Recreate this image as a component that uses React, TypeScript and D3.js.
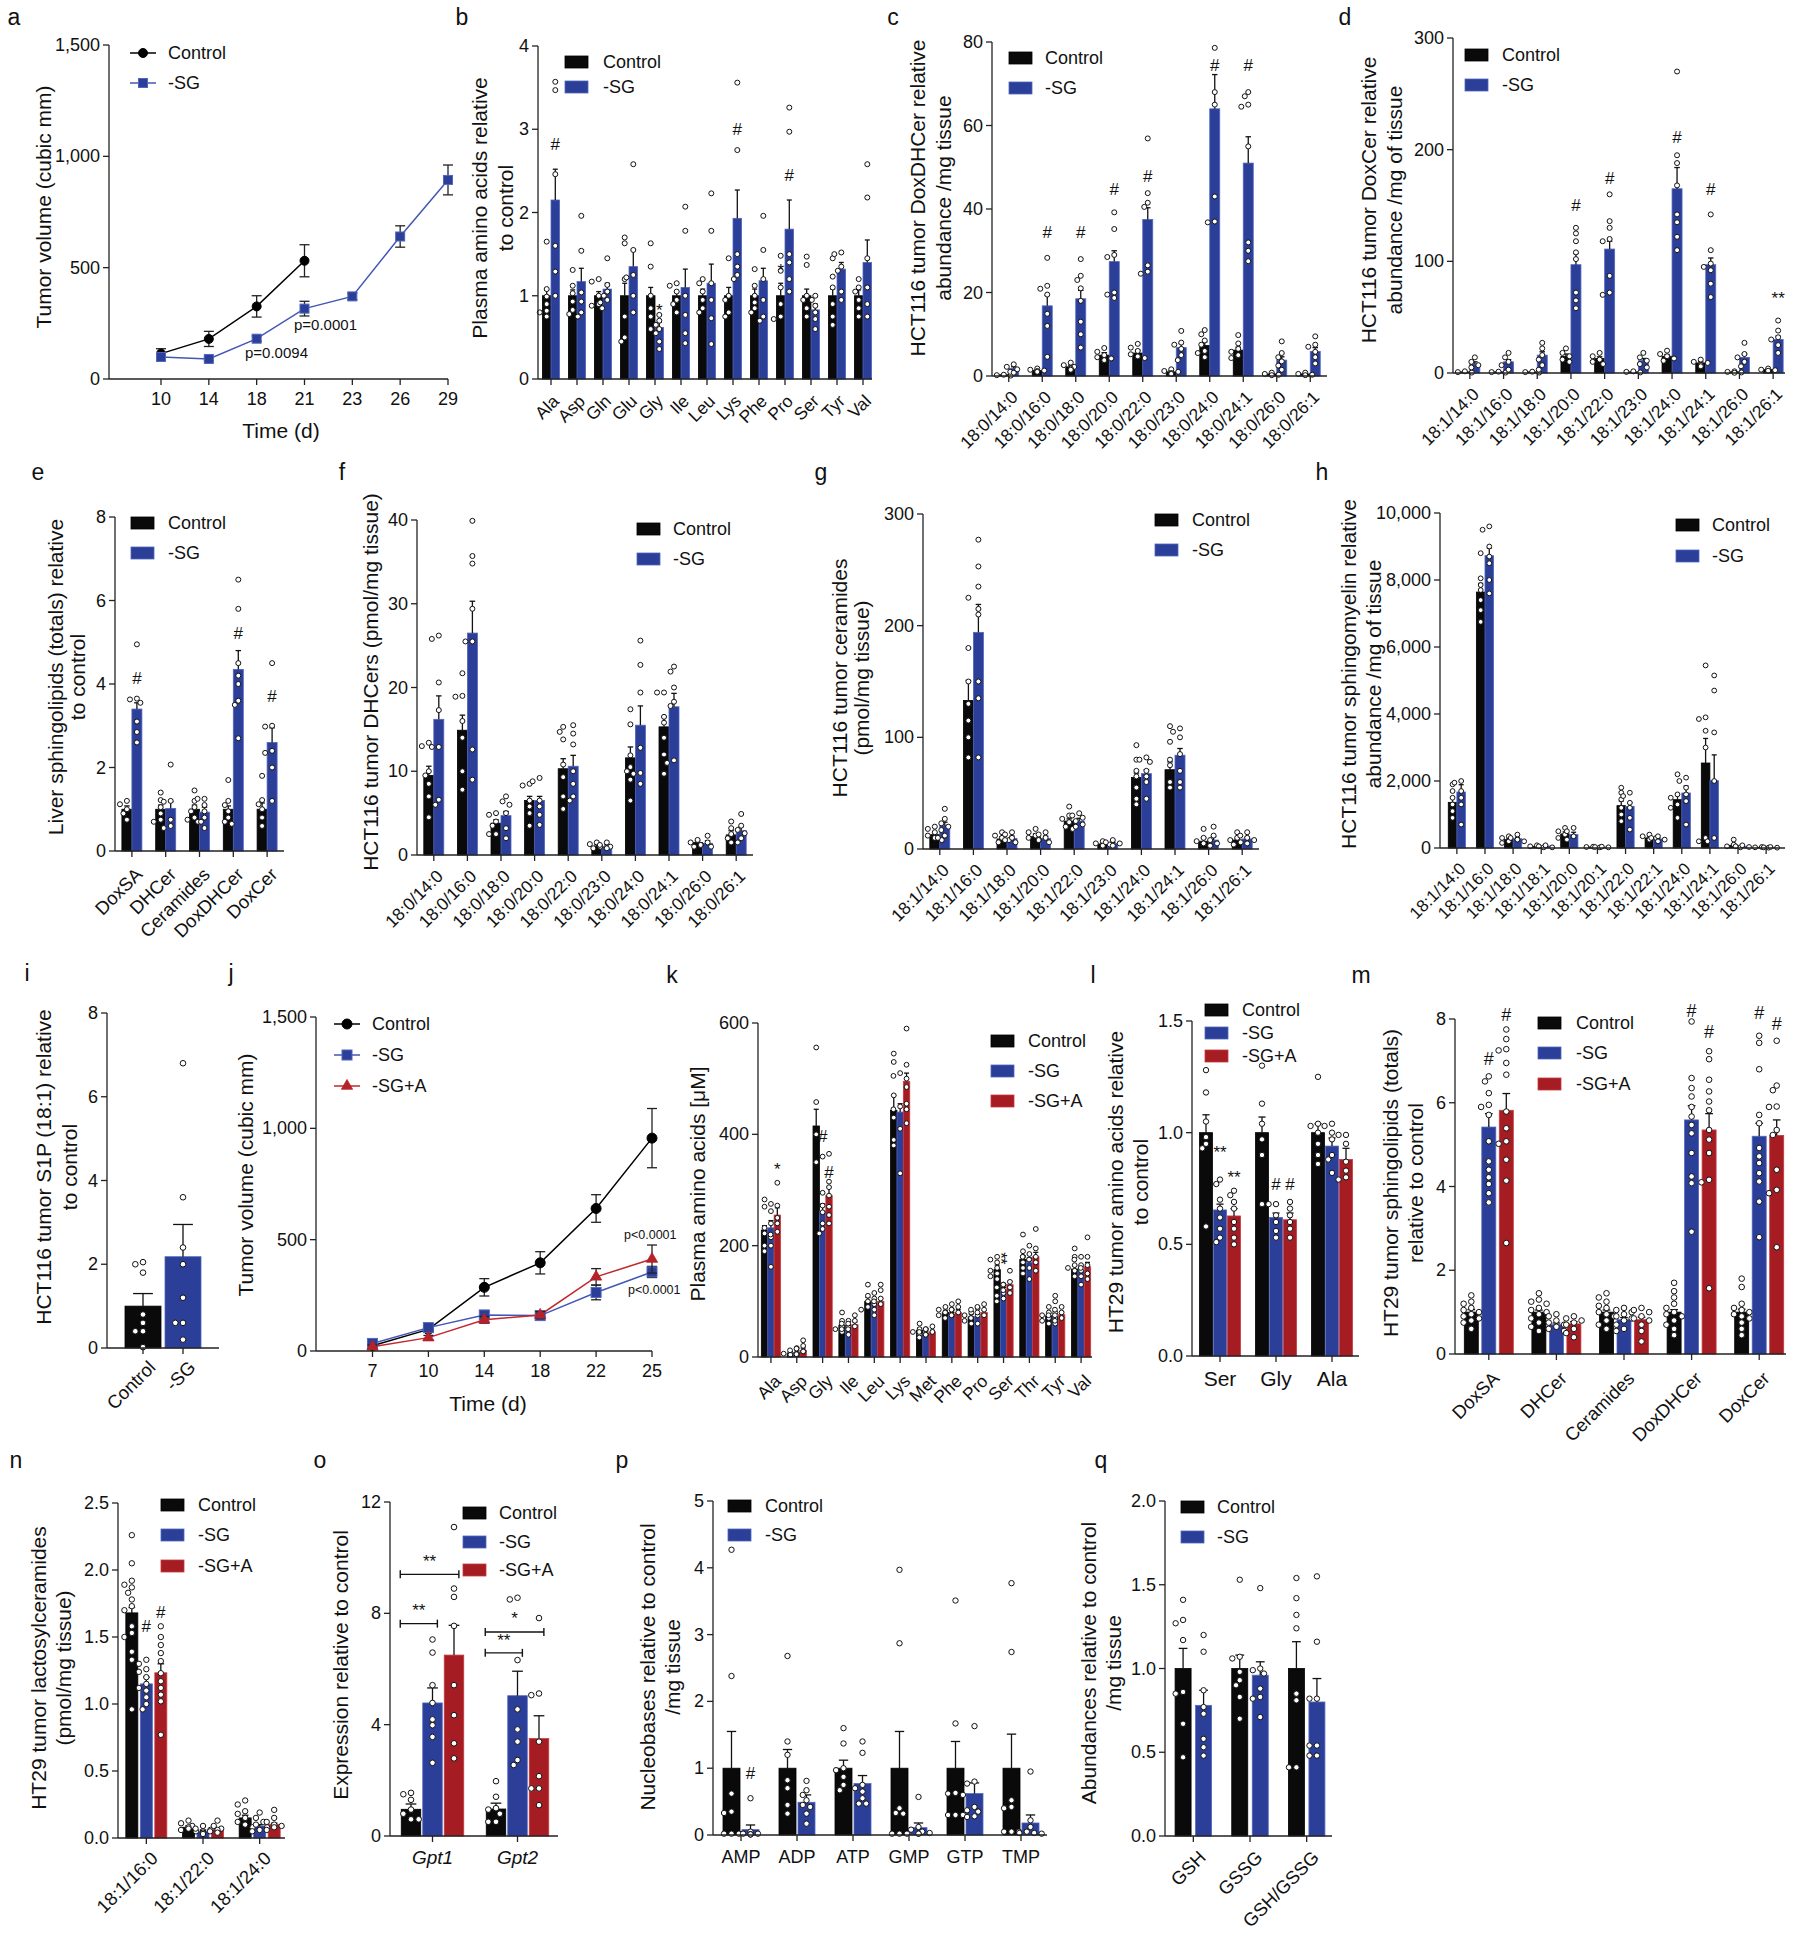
import React from "react";
import * as d3 from "d3";

const FONT = '"Liberation Sans", Arial, Helvetica, sans-serif';
const C_BLACK = "#0a0a0a";
const C_BLUE = "#2b3e98";
const C_RED = "#a51c22";
const S_BLUE = "#5266be";
const S_RED = "#c8393f";

// ---------- a ----------
const aDays = ["10", "14", "18", "21", "23", "26", "29"];
const aCtrlDays = ["10", "14", "18", "21"];
const aCtrl = [114, 180, 326, 531];
const aCtrlErr = [22, 34, 48, 72];
const aSG = [99, 90, 181, 316, 371, 640, 894];
const aSGErr = [10, 8, 12, 33, 15, 48, 67];

// ---------- b ----------
const bCats = ["Ala", "Asp", "Gln", "Glu", "Gly", "Ile", "Leu", "Lys", "Phe", "Pro", "Ser", "Tyr", "Val"];
const bCtrl = [1, 1, 1, 1, 1, 1, 1, 1, 1, 1, 1, 1, 1];
const bCtrlErr = [1.07, 1.07, 1.05, 1.15, 1.1, 1.05, 1.08, 1.1, 1.08, 1.15, 1.08, 1.08, 1.07];
const bSG = [2.15, 1.17, 1.08, 1.35, 0.62, 1.1, 1.15, 1.93, 1.18, 1.8, 0.83, 1.32, 1.4];
const bSGErr = [2.52, 1.33, 1.15, 1.55, 0.68, 1.32, 1.38, 2.27, 1.33, 2.15, 0.9, 1.4, 1.67];
const bCtrlDots = [[1.65, 1.08, 0.99, 0.9, 0.8, 0.75, 0.82], [1.31, 1.12, 1.03, 0.93, 0.83, 0.78], [1.2, 1.17, 1.0, 0.9, 0.85, 0.88], [1.7, 1.63, 1.2, 0.75, 0.5, 0.45], [1.63, 1.35, 1.0, 0.85, 0.75, 0.6], [1.15, 1.12, 1.05, 0.95, 0.8, 0.9], [1.2, 1.15, 1.05, 0.95, 0.85, 0.8], [1.45, 1.0, 0.95, 0.8, 0.75], [1.32, 1.12, 1.0, 0.92, 0.85, 0.8], [1.48, 1.3, 1.1, 0.9, 0.75, 0.72], [1.47, 1.37, 1.0, 0.95, 0.85, 0.75], [1.45, 1.23, 1.1, 0.9, 0.75, 0.65], [1.2, 1.1, 1.05, 0.95, 0.85, 0.75]];
const bSGDots = [[3.57, 3.47, 2.46, 1.6, 1.29, 1.0], [1.96, 1.54, 1.04, 0.93, 0.75, 0.8], [1.45, 1.13, 1.05, 1.0, 0.92, 0.95], [2.58, 1.55, 1.25, 1.22, 1.0, 0.8], [0.77, 0.7, 0.65, 0.6, 0.55, 0.45, 0.36], [2.07, 1.78, 1.0, 0.77, 0.43, 0.55], [2.23, 1.78, 1.15, 0.95, 0.73, 0.42], [3.56, 2.75, 1.5, 1.35, 1.25, 1.2], [1.96, 1.55, 1.2, 0.95, 0.75, 0.7], [3.26, 2.97, 1.5, 1.4, 1.2, 1.05], [1.0, 0.95, 0.88, 0.8, 0.72, 0.6], [1.52, 1.5, 1.35, 1.3, 1.05, 0.95], [2.58, 2.18, 1.45, 1.1, 0.9, 0.75]];

// ---------- c ----------
const cCats = ["18:0/14:0", "18:0/16:0", "18:0/18:0", "18:0/20:0", "18:0/22:0", "18:0/23:0", "18:0/24:0", "18:0/24:1", "18:0/26:0", "18:0/26:1"];
const cCtrl = [0.3, 1.3, 2.2, 5.0, 5.5, 1.0, 7.3, 6.2, 0.5, 0.5];
const cCtrlErr = [0.4, 1.5, 2.6, 5.6, 6.2, 1.3, 8.2, 6.9, 0.6, 0.6];
const cSG = [1.8, 16.8, 18.5, 27.4, 37.5, 6.8, 64, 51, 3.8, 5.9];
const cSGErr = [2.2, 19.3, 20.5, 30, 40.3, 7.8, 72.2, 57.3, 4.6, 6.8];
const cCtrlDots = [[0.3, 0.2, 0.1], [1.8, 1.5, 1.2, 1.0, 1.3], [3.2, 2.6, 2.2, 1.8, 1.5], [6.7, 5.8, 5.0, 4.5, 3.8, 4.2], [7.7, 6.8, 6, 5.2, 4.7, 4.3], [1.6, 1.2, 1.0, 0.7, 0.5], [11, 10, 8.5, 7.5, 6, 5.5, 4.5], [9.8, 7.8, 6.5, 5.8, 5, 4.3], [0.8, 0.5, 0.3, 0.2], [0.8, 0.5, 0.3, 0.2]];
const cSGDots = [[2.8, 2.2, 1.6, 1.0, 0.8], [28.3, 21.6, 20.9, 19.5, 14.9, 12, 4.6], [28, 24, 23, 21, 18, 13, 10, 6.8], [39.2, 35.2, 29, 28.5, 20, 18.7, 19.5], [56.9, 43.8, 41.5, 40.5, 26.5, 24.5, 25], [10.8, 8, 7.5, 6.5, 5, 3.8], [78.6, 68, 65, 43, 37, 36.8], [68, 67, 65, 64.5, 55, 32, 30, 27.5], [8.3, 5.5, 4.5, 3.5, 2.5, 1.5], [9.5, 7.5, 7, 5.8, 4.5, 3]];

// ---------- d ----------
const dCats = ["18:1/14:0", "18:1/16:0", "18:1/18:0", "18:1/20:0", "18:1/22:0", "18:1/23:0", "18:1/24:0", "18:1/24:1", "18:1/26:0", "18:1/26:1"];
const dCtrl = [1, 1, 1, 15, 13, 1, 15, 9, 1, 3];
const dCtrlErr = [1.3, 1.2, 1.2, 17, 14.5, 1.2, 16.5, 10, 1.2, 3.6];
const dSG = [8, 10, 16, 97, 111, 11, 165, 97, 14, 30];
const dSGErr = [10, 12, 19, 107, 118, 13, 184, 103, 17, 33];
const dCtrlDots = [[1.5, 0.8, 0.4], [1.2, 0.8, 0.4], [1.2, 0.8, 0.4], [22, 18, 15, 12, 10], [18, 15, 12, 10, 8], [1.5, 1, 0.5], [20, 17, 15, 13, 11], [12, 10, 9, 7, 6], [1.5, 1, 0.5, 0.2], [4, 3, 2.5, 2]];
const dSGDots = [[14, 10, 7, 5], [18, 14, 10, 7, 3], [27, 22, 16, 12, 7, 3], [130, 125, 118, 108, 102, 72, 65, 58], [160, 136, 130, 120, 118, 87, 72, 70], [18, 14, 11, 8, 5], [270, 195, 188, 168, 142, 135, 122, 110], [142, 110, 98, 95, 92, 80, 68], [27, 17, 14, 10, 6], [47, 38, 32, 30, 25, 18]];

// ---------- e ----------
const eCats = ["DoxSA", "DHCer", "Ceramides", "DoxDHCer", "DoxCer"];
const eCtrl = [1, 1, 1, 1, 1];
const eCtrlErr = [1.08, 1.1, 1.1, 1.08, 1.15];
const eSG = [3.4, 1.02, 0.93, 4.35, 2.6];
const eSGErr = [3.55, 1.18, 1.05, 4.8, 2.95];
const eCtrlDots = [[1.2, 1.12, 1.0, 0.9, 0.75], [1.4, 1.22, 1.05, 0.9, 0.75, 0.7], [1.45, 1.2, 1.05, 0.95, 0.8, 0.75, 0.7], [1.7, 1.2, 1.1, 0.95, 0.8, 0.7, 0.65], [1.8, 1.22, 1.12, 1.0, 0.8, 0.6]];
const eSGDots = [[4.95, 3.65, 3.63, 3.55, 3.1, 2.85, 2.6], [2.07, 1.2, 1.18, 0.75, 0.6, 0.55], [1.25, 1.25, 1.1, 0.95, 0.8, 0.7, 0.55], [6.5, 5.8, 4.5, 4.2, 4.0, 3.6, 3.5, 2.7], [4.5, 3.0, 2.98, 2.4, 2.35, 2.0, 1.2]];

// ---------- f ----------
const fCats = cCats;
const fCtrl = [9.5, 14.9, 3.8, 6.5, 10.3, 1.0, 11.6, 15.3, 1.5, 2.4];
const fCtrlErr = [10.6, 16.7, 4.2, 7.0, 11.5, 1.2, 12.9, 16.5, 1.7, 2.9];
const fSG = [16.2, 26.5, 4.7, 6.5, 10.6, 1.0, 15.5, 17.7, 1.4, 2.9];
const fSGErr = [19, 30.3, 5.2, 7.0, 11.9, 1.2, 17.8, 19.3, 1.7, 3.4];
const fCtrlDots = [[13.4, 13, 10, 9.5, 8.5, 7, 4.5], [21.7, 19, 18.9, 16, 14, 10, 7.8], [5, 4.8, 4, 3.5, 2.5, 2.5], [8.5, 8.3, 6.5, 5.8, 5, 3.5], [15.3, 14.7, 13.8, 10.8, 9.3, 7, 5.5], [1.5, 1.3, 1.0, 0.8], [17.4, 15.6, 11.9, 10.5, 10, 9, 6.5], [19.4, 19.4, 16.5, 15.8, 14, 12, 9.7], [1.8, 1.5, 1.2, 1.0], [4, 3.2, 2.5, 2, 1.5]];
const fSGDots = [[26.2, 25.8, 20.6, 17.3, 12.9, 12.9, 6.6, 6.0], [39.9, 35.7, 34.8, 29.4, 25.5, 25.5, 12.6, 9.0], [7, 6.4, 6, 5, 3.2, 2], [9.2, 8.8, 6.5, 5.8, 4.8, 3.6], [15.5, 14.5, 13.2, 10, 8.5, 7, 6.5], [1.5, 1.2, 1.0, 0.8], [25.6, 22.7, 19.4, 12.8, 9.8, 9.7, 8.5], [22.5, 21.9, 20, 18.3, 17.8, 11.3, 11], [2.3, 1.5, 1.2, 1.0], [4.9, 3.5, 3, 2.6, 2, 1.5]];

// ---------- g ----------
const gCats = dCats;
const gCtrl = [12.8, 133, 9, 11, 25, 4.5, 64, 71, 7, 8];
const gCtrlErr = [14.5, 151, 11, 13.5, 27, 5.5, 68, 78, 10, 9];
const gSG = [20.9, 194, 9.5, 9.5, 25, 5, 67.5, 84, 8, 9];
const gSGErr = [24, 219, 11.5, 11.5, 27.5, 6, 71, 90, 11, 10.5];
const gCtrlDots = [[20, 18, 15, 12, 10, 8], [225, 180, 150, 130, 115, 100, 82], [15, 12, 10, 8, 6], [18, 15, 12, 10, 8], [38, 30, 27, 24, 20, 18], [7, 5, 4, 3], [93, 80, 70, 65, 55, 45, 40], [110, 96, 80, 75, 60, 55], [18, 10, 7, 5, 3], [15, 10, 8, 6, 4]];
const gSGDots = [[36, 27, 23, 20, 17, 12, 10], [277, 253, 235, 215, 210, 150, 135, 82], [15, 13, 10, 8, 6], [15, 13, 10, 8, 6], [32, 30, 28, 25, 22, 20], [8, 6, 5, 3], [82, 80, 78, 70, 65, 60, 45], [108, 105, 100, 85, 70, 60, 55], [20, 12, 8, 5, 3], [15, 12, 10, 8, 5]];

// ---------- h ----------
const hCats = ["18:1/14:0", "18:1/16:0", "18:1/18:0", "18:1/18:1", "18:1/20:0", "18:1/20:1", "18:1/22:0", "18:1/22:1", "18:1/24:0", "18:1/24:1", "18:1/26:0", "18:1/26:1"];
const hCtrl = [1363, 7640, 250, 50, 420, 30, 1264, 300, 1443, 2537, 80, 20];
const hCtrlErr = [1530, 7900, 290, 60, 480, 35, 1400, 330, 1600, 3270, 110, 25];
const hSG = [1672, 8726, 280, 60, 400, 30, 1244, 270, 1642, 2010, 50, 20];
const hSGErr = [1890, 8950, 320, 70, 470, 35, 1350, 300, 1850, 2780, 60, 25];
const hCtrlDots = [[1900, 1700, 1500, 1300, 1100, 900], [8800, 8050, 7850, 7700, 7400, 7100, 6750], [350, 300, 200, 150], [80, 50, 20], [600, 500, 400, 300], [40, 30, 20], [1800, 1650, 1450, 1200, 1000, 800], [400, 350, 300, 250], [2200, 1600, 1500, 1300, 1200, 900], [5450, 3900, 3850, 3500, 3000, 300, 200], [250, 100, 50, 20], [30, 20, 10]];
const hSGDots = [[2000, 1950, 1700, 1500, 1300, 700], [9600, 9500, 9000, 8700, 8500, 8000, 7600], [400, 300, 250, 200], [80, 50, 20], [600, 500, 350, 250], [40, 30, 20], [1650, 1550, 1350, 1200, 900, 550], [350, 300, 250, 200], [2100, 2000, 1800, 1600, 1400, 700], [5150, 4700, 3450, 2000, 300, 200], [80, 50, 30], [30, 20, 10]];

// ---------- i ----------
const iCats = ["Control", "-SG"];
const iCtrl = [1.0, null];
const iCtrlErr = [1.3, null];
const iSG = [null, 2.18];
const iSGErr = [null, 2.95];
const iCtrlDots = [[0.02, 0.4, 0.4, 0.6, 0.8, 1.8, 2.0, 2.05], []];
const iSGDots = [[], [6.8, 3.6, 2.4, 2.0, 1.2, 0.6, 0.6, 0.2]];

// ---------- j ----------
const jDays = ["7", "10", "14", "18", "22", "25"];
const jCtrl = [24, 97, 286, 396, 640, 956];
const jCtrlErr = [8, 12, 39, 50, 62, 133];
const jSG = [34, 105, 162, 159, 263, 355];
const jSGErr = [10, 15, 18, 15, 33, 25];
const jSGA = [19, 60, 140, 162, 333, 413];
const jSGAErr = [8, 10, 15, 15, 37, 63];

// ---------- k ----------
const kCats = ["Ala", "Asp", "Gly", "Ile", "Leu", "Lys", "Met", "Phe", "Pro", "Ser", "Thr", "Tyr", "Val"];
const kCtrl = [228, 6, 415, 57, 100, 443, 48, 80, 72, 157, 175, 74, 158];
const kCtrlErr = [236, 8, 445, 63, 107, 470, 52, 84, 77, 165, 182, 79, 164];
const kSG = [232, 8, 262, 52, 95, 440, 42, 76, 72, 120, 170, 72, 155];
const kSGErr = [245, 11, 275, 57, 101, 455, 45, 80, 77, 125, 178, 78, 162];
const kSGA = [255, 12, 290, 58, 100, 495, 45, 80, 80, 130, 180, 76, 162];
const kSGAErr = [268, 16, 305, 63, 106, 510, 48, 85, 84, 136, 188, 81, 170];
const kCtrlDots = [[283, 270, 232, 222, 200, 190], [8, 6, 5, 4], [556, 458, 400, 350], [80, 65, 55, 50, 45], [130, 110, 100, 90, 85], [545, 530, 470, 430, 390, 380], [60, 50, 45, 40], [90, 85, 80, 75, 70], [80, 75, 70, 65, 60], [180, 175, 170, 160, 155, 150, 145, 140], [220, 190, 180, 170, 160, 150], [90, 80, 75, 70, 65, 60], [195, 180, 165, 160, 155, 145]];
const kSGDots = [[275, 262, 240, 215, 200, 162], [16, 12, 10, 6], [360, 295, 272, 260, 240, 230, 222], [65, 60, 55, 50, 40], [115, 105, 95, 85, 75], [510, 505, 450, 445, 410, 330], [50, 45, 40, 35], [95, 85, 80, 75, 70], [88, 85, 75, 70, 60], [130, 125, 115, 110, 105, 100], [200, 185, 180, 175, 160, 140], [110, 100, 80, 75, 70, 60], [180, 175, 165, 155, 145, 130]];
const kSGADots = [[313, 272, 250, 240, 225, 220], [30, 20, 15, 10, 5], [365, 315, 305, 290, 270, 255, 240], [75, 65, 60, 55, 50], [130, 120, 105, 100, 95], [590, 525, 500, 485, 455, 445, 420], [55, 50, 45, 40], [100, 90, 85, 80, 75], [95, 90, 85, 80, 75], [155, 135, 130, 125, 120, 115], [230, 195, 180, 175, 170, 155], [90, 85, 80, 75, 70, 65], [215, 180, 165, 160, 150, 140]];

// ---------- l ----------
const lCats = ["Ser", "Gly", "Ala"];
const lCtrl = [1.0, 1.0, 1.0];
const lCtrlErr = [1.08, 1.07, 1.04];
const lSG = [0.654, 0.62, 0.94];
const lSGErr = [0.68, 0.64, 0.976];
const lSGA = [0.627, 0.61, 0.88];
const lSGAErr = [0.66, 0.64, 0.93];
const lCtrlDots = [[1.28, 1.18, 1.05, 0.98, 0.95, 0.93, 0.58], [1.3, 1.13, 1.04, 0.97, 0.9, 0.68], [1.25, 1.04, 1.03, 1.0, 0.95, 0.9, 0.86]];
const lSGDots = [[0.79, 0.77, 0.7, 0.66, 0.62, 0.57, 0.53, 0.51], [0.68, 0.68, 0.63, 0.6, 0.56, 0.53], [1.04, 1.03, 1.0, 0.97, 0.9, 0.88, 0.82]];
const lSGADots = [[0.74, 0.72, 0.69, 0.66, 0.6, 0.57, 0.53, 0.5], [0.69, 0.66, 0.63, 0.6, 0.57, 0.53], [0.99, 0.99, 0.95, 0.87, 0.83, 0.8, 0.79]];

// ---------- m ----------
const mCats = ["DoxSA", "DHCer", "Ceramides", "DoxDHCer", "DoxCer"];
const mCtrl = [1.0, 1.0, 1.0, 1.0, 1.0];
const mCtrlErr = [1.06, 1.05, 1.05, 1.06, 1.07];
const mSG = [5.42, 0.7, 0.82, 5.59, 5.2];
const mSGErr = [5.74, 0.74, 0.87, 5.93, 5.51];
const mSGA = [5.82, 0.72, 0.82, 5.35, 5.22];
const mSGAErr = [6.22, 0.77, 0.88, 5.74, 5.59];
const mCtrlDots = [[1.4, 1.25, 1.2, 1.1, 1.05, 1.0, 0.95, 0.9, 0.85, 0.8, 0.75, 0.6], [1.45, 1.3, 1.25, 1.2, 1.1, 1.05, 1.0, 0.95, 0.85, 0.75, 0.65, 0.55], [1.45, 1.35, 1.25, 1.15, 1.1, 1.0, 0.95, 0.9, 0.8, 0.7, 0.6], [1.7, 1.5, 1.35, 1.2, 1.1, 1.0, 0.95, 0.9, 0.8, 0.7, 0.6, 0.45], [1.8, 1.6, 1.2, 1.1, 1.05, 1.0, 0.95, 0.9, 0.85, 0.75, 0.6, 0.45]];
const mSGDots = [[6.63, 6.51, 6.23, 5.95, 5.9, 5.71, 5.08, 4.6, 4.4, 4.22, 4.06, 3.84, 3.62], [0.95, 0.9, 0.8, 0.75, 0.7, 0.65, 0.6, 0.55], [1.1, 1.05, 1.0, 0.95, 0.9, 0.85, 0.8, 0.7, 0.6, 0.55], [7.94, 6.59, 6.35, 6.15, 5.9, 5.67, 5.47, 5.27, 4.8, 4.24, 4.08, 2.92], [7.6, 7.43, 6.8, 5.71, 5.51, 4.92, 4.72, 4.56, 4.32, 4.12, 3.64, 2.79]];
const mSGADots = [[7.75, 7.52, 7.28, 7.25, 6.95, 6.67, 5.79, 5.39, 5.08, 5.02, 4.64, 4.14, 2.65], [0.9, 0.85, 0.8, 0.75, 0.7, 0.6, 0.5, 0.4], [1.1, 1.05, 1.0, 0.9, 0.85, 0.8, 0.7, 0.55, 0.3], [7.23, 7.04, 6.55, 6.27, 6.03, 5.82, 5.35, 5.12, 4.8, 4.16, 4.1, 1.57], [7.48, 6.41, 6.3, 5.91, 5.9, 5.35, 5.23, 4.4, 3.92, 3.84, 2.55]];

// ---------- n ----------
const nCats = ["18:1/16:0", "18:1/22:0", "18:1/24:0"];
const nCtrl = [1.68, 0.08, 0.15];
const nCtrlErr = [1.72, 0.09, 0.17];
const nSG = [1.15, 0.05, 0.09];
const nSGErr = [1.2, 0.06, 0.1];
const nSGA = [1.233, 0.06, 0.1];
const nSGAErr = [1.3, 0.07, 0.11];
const nCtrlDots = [[2.26, 2.05, 1.92, 1.89, 1.87, 1.83, 1.78, 1.73, 1.7, 1.58, 1.53, 1.5, 1.39, 1.33, 0.96], [0.13, 0.11, 0.09, 0.08, 0.07, 0.06, 0.05], [0.28, 0.25, 0.2, 0.18, 0.15, 0.12, 0.1, 0.08]];
const nSGDots = [[1.33, 1.3, 1.26, 1.24, 1.2, 1.15, 1.12, 1.1, 1.05, 1.0, 0.96], [0.09, 0.07, 0.06, 0.05, 0.04, 0.03], [0.19, 0.15, 0.12, 0.1, 0.08, 0.06, 0.05]];
const nSGADots = [[1.58, 1.5, 1.44, 1.38, 1.32, 1.23, 1.17, 1.12, 1.07, 1.02, 0.77], [0.13, 0.09, 0.07, 0.06, 0.05, 0.04], [0.21, 0.15, 0.12, 0.1, 0.09, 0.08, 0.06]];

// ---------- o ----------
const oCats = ["Gpt1", "Gpt2"];
const oCtrl = [0.96, 0.97];
const oCtrlErr = [1.15, 1.18];
const oSG = [4.78, 5.04];
const oSGErr = [5.32, 5.92];
const oSGA = [6.5, 3.5];
const oSGAErr = [7.57, 4.32];
const oCtrlDots = [[1.55, 1.5, 1.3, 0.95, 0.8, 0.6, 0.6], [1.97, 1.41, 1.0, 0.95, 0.8, 0.51, 0.51]];
const oSGDots = [[7.06, 6.59, 5.42, 4.78, 4.19, 3.98, 3.56, 2.63], [8.56, 8.5, 6.32, 4.55, 3.83, 3.39, 2.73, 2.55]];
const oSGADots = [[11.1, 8.89, 8.59, 7.55, 5.42, 4.34, 3.33, 2.79], [7.83, 5.12, 5.06, 3.39, 2.15, 1.71, 1.71, 1.11]];

// ---------- p ----------
const pCats = ["AMP", "ADP", "ATP", "GMP", "GTP", "TMP"];
const pCtrl = [1, 1, 1, 1, 1, 1];
const pCtrlErr = [1.55, 1.28, 1.12, 1.55, 1.4, 1.51];
const pSG = [0.08, 0.49, 0.77, 0.11, 0.62, 0.18];
const pSGErr = [0.15, 0.6, 0.89, 0.18, 0.78, 0.3];
const pCtrlDots = [[4.27, 2.38, 0.62, 0.35, 0.33, 0.02, 0.02, 0.02], [2.68, 1.4, 1.2, 0.82, 0.7, 0.45, 0.32], [1.6, 1.37, 1.0, 0.97, 0.87, 0.75, 0.67], [3.97, 2.87, 0.4, 0.33, 0.32, 0.02, 0.02, 0.02], [3.51, 1.67, 0.63, 0.62, 0.6, 0.3, 0.3, 0.3], [3.77, 2.74, 0.52, 0.42, 0.4, 0.05, 0.05, 0.05]];
const pSGDots = [[0.55, 0.05, 0.02, 0.02, 0.01, 0.01, 0.01], [0.81, 0.67, 0.6, 0.52, 0.45, 0.42, 0.32, 0.17], [1.4, 1.23, 0.75, 0.7, 0.65, 0.55, 0.47, 0.47], [0.57, 0.12, 0.08, 0.05, 0.03, 0.02, 0.02], [1.63, 0.8, 0.77, 0.42, 0.37, 0.35, 0.28, 0.27], [0.95, 0.22, 0.12, 0.05, 0.03, 0.03, 0.02]];

// ---------- q ----------
const qCats = ["GSH", "GSSG", "GSH/GSSG"];
const qCtrl = [1.0, 1.0, 1.0];
const qCtrlErr = [1.12, 1.08, 1.16];
const qSG = [0.78, 0.96, 0.8];
const qSGErr = [0.87, 1.04, 0.94];
const qCtrlDots = [[1.41, 1.29, 1.27, 1.17, 0.86, 0.85, 0.67, 0.47], [1.53, 1.07, 1.06, 0.98, 0.93, 0.9, 0.83, 0.7], [1.54, 1.42, 1.32, 1.24, 0.85, 0.81, 0.41, 0.41]];
const qSGDots = [[1.2, 1.1, 0.87, 0.77, 0.73, 0.58, 0.53, 0.48], [1.48, 1.0, 0.99, 0.97, 0.88, 0.83, 0.82, 0.71], [1.55, 1.16, 0.82, 0.82, 0.54, 0.54, 0.48, 0.48]];

// ------------------------------------------------------------
type Ser = { name: string; fill: string; stroke: string; means: (number | null)[]; errs: (number | null)[]; dots: number[][] };
const ctrlS = (means: any[], errs: any[], dots: number[][]): Ser => ({ name: "Control", fill: C_BLACK, stroke: "#000", means, errs, dots });
const sgS = (means: any[], errs: any[], dots: number[][]): Ser => ({ name: "-SG", fill: C_BLUE, stroke: S_BLUE, means, errs, dots });
const sgaS = (means: any[], errs: any[], dots: number[][]): Ser => ({ name: "-SG+A", fill: C_RED, stroke: S_RED, means, errs, dots });

type Ann = { s: number; c: number; v: number; t: string; vert?: boolean };
type Bracket = { c: number; s1: number; s2: number; v: number; tv: number; t: string };
type BarCfg = {
  letter: string; lxy: [number, number];
  axisX: number; axisEnd: number; lineEnd?: number; y0: number; yTop: number; yMax: number; ticks: number[]; fmt?: (v: number) => string;
  cats: string[]; padInner?: number; padOuter?: number; barW: number; barStep: number; series: Ser[];
  lab: { rot: boolean; size: number; dx?: number; dy?: number; italic?: boolean };
  legend?: { x: number; ys: number[]; tx: number };
  title: { lines: string[]; xs: number[]; cy: number };
  ann?: Ann[]; brackets?: Bracket[]; r?: number; annSize?: number;
};

function swarm(vals: number[], cx: number, y: (v: number) => number, r: number, maxOff: number) {
  const placed: { x: number; y: number }[] = [];
  const ys = vals.map((v) => y(v)).sort((a, b) => a - b);
  const d = 2 * r + 0.8;
  for (const py of ys) {
    let bx = cx;
    for (let k = 0; k < 14; k++) {
      const off = k === 0 ? 0 : (k % 2 === 1 ? -1 : 1) * Math.ceil(k / 2) * (d * 0.6);
      if (Math.abs(off) > maxOff) break;
      const px = cx + off;
      if (placed.every((p) => (p.x - px) ** 2 + (p.y - py) ** 2 >= d * d * 0.8)) { bx = px; break; }
    }
    placed.push({ x: bx, y: py });
  }
  return placed;
}

function Title({ lines, xs, cy }: { lines: string[]; xs: number[]; cy: number }) {
  return (
    <g>
      {lines.map((l, i) => (
        <text key={i} transform={`translate(${xs[i]},${cy}) rotate(-90)`} textAnchor="middle" dominantBaseline="central" fontSize={21}>{l}</text>
      ))}
    </g>
  );
}

function BarPanel({ cfg }: { cfg: BarCfg }) {
  const y = d3.scaleLinear().domain([0, cfg.yMax]).range([cfg.y0, cfg.yTop]);
  const x = d3.scaleBand<string>().domain(cfg.cats).range([cfg.axisX, cfg.axisEnd]).paddingInner(cfg.padInner ?? 0).paddingOuter(cfg.padOuter ?? 0);
  const n = cfg.series.length;
  const cc = (ci: number) => (x(cfg.cats[ci]) as number) + x.bandwidth() / 2;
  const bx = (ci: number, si: number) => cc(ci) + (si - (n - 1) / 2) * cfg.barStep;
  const r = cfg.r ?? 2.6;
  const fmt = cfg.fmt ?? ((v: number) => String(v));
  const cap = Math.max(cfg.barW * 0.55, 5);
  const lineEnd = cfg.lineEnd ?? cfg.axisEnd;
  return (
    <g>
      <text x={cfg.lxy[0]} y={cfg.lxy[1]} textAnchor="middle" dominantBaseline="central" fontSize={23}>{cfg.letter}</text>
      <Title {...cfg.title} />
      {cfg.series.map((s, si) => s.means.map((m, ci) => m == null ? null : (
        <rect key={`b${si}-${ci}`} x={bx(ci, si) - cfg.barW / 2} y={y(m)} width={cfg.barW} height={Math.max(0, cfg.y0 - y(m))} fill={s.fill} stroke={s.stroke} strokeWidth={0.8} />
      )))}
      {cfg.series.map((s, si) => s.errs.map((e, ci) => e == null || s.means[ci] == null ? null : (
        <g key={`e${si}-${ci}`} stroke="#111" strokeWidth={1.3}>
          <line x1={bx(ci, si)} x2={bx(ci, si)} y1={y(s.means[ci] as number)} y2={y(e)} />
          <line x1={bx(ci, si) - cap / 2} x2={bx(ci, si) + cap / 2} y1={y(e)} y2={y(e)} />
        </g>
      )))}
      {cfg.series.map((s, si) => s.dots.map((dv, ci) => swarm(dv, bx(ci, si), y, r, cfg.barW * 0.6 + 3).map((p, k) => (
        <circle key={`d${si}-${ci}-${k}`} cx={p.x} cy={p.y} r={r} fill="#fff" stroke="#111" strokeWidth={1} />
      ))))}
      {(cfg.ann ?? []).map((a, i) => {
        const fs = cfg.annSize ?? 17;
        const ax = bx(a.c, a.s);
        const ay = y(a.v);
        return a.vert ? (
          <text key={`a${i}`} transform={`translate(${ax - 3},${ay}) rotate(90)`} textAnchor="middle" dominantBaseline="central" fontSize={fs} letterSpacing={-1}>{a.t}</text>
        ) : (
          <text key={`a${i}`} x={ax} y={ay} textAnchor="middle" dominantBaseline="central" fontSize={fs}>{a.t}</text>
        );
      })}
      {(cfg.brackets ?? []).map((b, i) => {
        const x1 = bx(b.c, b.s1) - cfg.barW / 2 - 1;
        const x2 = bx(b.c, b.s2) + cfg.barW / 4;
        const yy = y(b.v);
        return (
          <g key={`br${i}`} stroke="#111" strokeWidth={1.4}>
            <line x1={x1} x2={x2} y1={yy} y2={yy} />
            <line x1={x1} x2={x1} y1={yy - 4} y2={yy + 4} />
            <line x1={x2} x2={x2} y1={yy - 4} y2={yy + 4} />
            <text x={(x1 + x2) / 2} y={y(b.tv)} textAnchor="middle" dominantBaseline="central" fontSize={17} stroke="none" fill="#111">{b.t}</text>
          </g>
        );
      })}
      <g stroke="#222" strokeWidth={1.3}>
        <line x1={cfg.axisX} x2={cfg.axisX} y1={cfg.y0} y2={cfg.yTop} />
        <line x1={cfg.axisX} x2={lineEnd} y1={cfg.y0} y2={cfg.y0} />
        {cfg.ticks.map((t) => <line key={`yt${t}`} x1={cfg.axisX - 6} x2={cfg.axisX} y1={y(t)} y2={y(t)} />)}
        {cfg.cats.map((c, ci) => <line key={`xt${c}`} x1={cc(ci)} x2={cc(ci)} y1={cfg.y0} y2={cfg.y0 + 6} />)}
      </g>
      {cfg.ticks.map((t) => (
        <text key={`yl${t}`} x={cfg.axisX - 9} y={y(t)} textAnchor="end" dominantBaseline="central" fontSize={18}>{fmt(t)}</text>
      ))}
      {cfg.cats.map((c, ci) => cfg.lab.rot ? (
        <text key={`xl${c}`} transform={`translate(${cc(ci) + (cfg.lab.dx ?? 7)},${cfg.y0 + (cfg.lab.dy ?? 19)}) rotate(-45)`} textAnchor="end" dominantBaseline="central" fontSize={cfg.lab.size}>{c}</text>
      ) : (
        <text key={`xl${c}`} x={cc(ci)} y={cfg.y0 + (cfg.lab.dy ?? 21)} textAnchor="middle" dominantBaseline="central" fontSize={cfg.lab.size} fontStyle={cfg.lab.italic ? "italic" : "normal"}>{c}</text>
      ))}
      {cfg.legend && cfg.series.map((s, si) => (
        <g key={`lg${si}`}>
          <rect x={cfg.legend!.x} y={cfg.legend!.ys[si] - 6} width={23} height={12} fill={s.fill} stroke={s.stroke} strokeWidth={0.8} />
          <text x={cfg.legend!.tx} y={cfg.legend!.ys[si]} dominantBaseline="central" fontSize={18}>{s.name}</text>
        </g>
      ))}
    </g>
  );
}

type LSer = { name: string; color: string; line: string; marker: "circle" | "square" | "triangle"; days: string[]; means: number[]; errs: number[] };
type LineCfg = {
  letter: string; lxy: [number, number]; axisX: number; y0: number; yTop: number; yMax: number; ticks: number[];
  cats: string[]; firstX: number; lastX: number; series: LSer[]; msize: number;
  legend: { x: number; ys: number[]; tx: number }; title: { lines: string[]; xs: number[]; cy: number };
  xlabel: { x: number; y: number }; notes: { t: string; x: number; y: number; size: number }[];
};

function Marker({ kind, x, y, color, size }: { kind: string; x: number; y: number; color: string; size: number }) {
  if (kind === "circle") return <circle cx={x} cy={y} r={size / 2} fill={color} stroke={color} />;
  if (kind === "square") return <rect x={x - size / 2} y={y - size / 2} width={size} height={size} fill={C_BLUE} stroke={S_BLUE} strokeWidth={1} />;
  const p = d3.symbol().type(d3.symbolTriangle).size(size * size * 0.55)();
  return <path d={p as string} transform={`translate(${x},${y})`} fill={color} stroke={color} strokeWidth={0.8} />;
}

function LinePanel({ cfg }: { cfg: LineCfg }) {
  const y = d3.scaleLinear().domain([0, cfg.yMax]).range([cfg.y0, cfg.yTop]);
  const x = d3.scalePoint<string>().domain(cfg.cats).range([cfg.firstX, cfg.lastX]);
  const fmt = d3.format(",");
  return (
    <g>
      <text x={cfg.lxy[0]} y={cfg.lxy[1]} textAnchor="middle" dominantBaseline="central" fontSize={23}>{cfg.letter}</text>
      <Title {...cfg.title} />
      {cfg.series.map((s, si) => {
        const pts: [number, number][] = s.days.map((d, i) => [x(d) as number, y(s.means[i])]);
        const path = d3.line()(pts) as string;
        return (
          <g key={`ls${si}`}>
            <path d={path} fill="none" stroke={s.line} strokeWidth={1.5} />
            {s.days.map((d, i) => {
              const px = x(d) as number;
              const y1 = y(s.means[i] - s.errs[i]);
              const y2 = y(s.means[i] + s.errs[i]);
              return (
                <g key={`er${i}`} stroke="#222" strokeWidth={1.3}>
                  <line x1={px} x2={px} y1={y1} y2={y2} />
                  <line x1={px - 5} x2={px + 5} y1={y1} y2={y1} />
                  <line x1={px - 5} x2={px + 5} y1={y2} y2={y2} />
                </g>
              );
            })}
            {s.days.map((d, i) => <Marker key={`m${i}`} kind={s.marker} x={x(d) as number} y={y(s.means[i])} color={s.color} size={cfg.msize} />)}
          </g>
        );
      })}
      <g stroke="#222" strokeWidth={1.3}>
        <line x1={cfg.axisX} x2={cfg.axisX} y1={cfg.y0} y2={cfg.yTop} />
        <line x1={cfg.axisX} x2={cfg.lastX} y1={cfg.y0} y2={cfg.y0} />
        {cfg.ticks.map((t) => <line key={`yt${t}`} x1={cfg.axisX - 6} x2={cfg.axisX} y1={y(t)} y2={y(t)} />)}
        {cfg.cats.map((c) => <line key={`xt${c}`} x1={x(c) as number} x2={x(c) as number} y1={cfg.y0} y2={cfg.y0 + 6} />)}
      </g>
      {cfg.ticks.map((t) => <text key={`yl${t}`} x={cfg.axisX - 9} y={y(t)} textAnchor="end" dominantBaseline="central" fontSize={18}>{fmt(t)}</text>)}
      {cfg.cats.map((c) => <text key={`xl${c}`} x={x(c) as number} y={cfg.y0 + 20} textAnchor="middle" dominantBaseline="central" fontSize={18}>{c}</text>)}
      <text x={cfg.xlabel.x} y={cfg.xlabel.y} textAnchor="middle" dominantBaseline="central" fontSize={21}>Time (d)</text>
      {cfg.notes.map((n, i) => <text key={`n${i}`} x={n.x} y={n.y} dominantBaseline="central" fontSize={n.size}>{n.t}</text>)}
      {cfg.series.map((s, si) => (
        <g key={`lg${si}`}>
          <line x1={cfg.legend.x - 13} x2={cfg.legend.x + 13} y1={cfg.legend.ys[si]} y2={cfg.legend.ys[si]} stroke={s.line} strokeWidth={1.5} />
          <Marker kind={s.marker} x={cfg.legend.x} y={cfg.legend.ys[si]} color={s.color} size={cfg.msize} />
          <text x={cfg.legend.tx} y={cfg.legend.ys[si]} dominantBaseline="central" fontSize={18}>{s.name}</text>
        </g>
      ))}
    </g>
  );
}

const f1 = d3.format(".1f");
const fc = d3.format(",");

const panelA: LineCfg = {
  letter: "a", lxy: [14, 17], axisX: 109, y0: 379, yTop: 45, yMax: 1500, ticks: [0, 500, 1000, 1500],
  cats: aDays, firstX: 161, lastX: 448, msize: 9,
  series: [
    { name: "Control", color: "#000", line: "#000", marker: "circle", days: aCtrlDays, means: aCtrl, errs: aCtrlErr },
    { name: "-SG", color: C_BLUE, line: "#4257b5", marker: "square", days: aDays, means: aSG, errs: aSGErr },
  ],
  legend: { x: 143, ys: [53, 83], tx: 168 },
  title: { lines: ["Tumor volume (cubic mm)"], xs: [43], cy: 207 },
  xlabel: { x: 281, y: 430 },
  notes: [{ t: "p=0.0001", x: 294, y: 324, size: 15 }, { t: "p=0.0094", x: 245, y: 352, size: 15 }],
};

const panelJ: LineCfg = {
  letter: "j", lxy: [231, 973], axisX: 316, y0: 1351, yTop: 1017, yMax: 1500, ticks: [0, 500, 1000, 1500],
  cats: jDays, firstX: 372.5, lastX: 652, msize: 10,
  series: [
    { name: "Control", color: "#000", line: "#000", marker: "circle", days: jDays, means: jCtrl, errs: jCtrlErr },
    { name: "-SG", color: C_BLUE, line: "#4257b5", marker: "square", days: jDays, means: jSG, errs: jSGErr },
    { name: "-SG+A", color: "#b5232a", line: "#c0282d", marker: "triangle", days: jDays, means: jSGA, errs: jSGAErr },
  ],
  legend: { x: 347, ys: [1024, 1055, 1086], tx: 372 },
  title: { lines: ["Tumor volume (cubic mm)"], xs: [245], cy: 1175 },
  xlabel: { x: 488, y: 1403 },
  notes: [{ t: "p<0.0001", x: 624, y: 1235, size: 12.5 }, { t: "p<0.0001", x: 628, y: 1290, size: 12.5 }],
};

const barPanels: BarCfg[] = [
  {
    letter: "b", lxy: [462, 17], axisX: 538, axisEnd: 876, lineEnd: 872, y0: 379, yTop: 46, yMax: 4, ticks: [0, 1, 2, 3, 4],
    cats: bCats, barW: 8.6, barStep: 8.6, r: 2.5,
    series: [ctrlS(bCtrl, bCtrlErr, bCtrlDots), sgS(bSG, bSGErr, bSGDots)],
    lab: { rot: true, size: 17.5, dx: 5, dy: 19 }, legend: { x: 565, ys: [62, 87], tx: 603 },
    title: { lines: ["Plasma amino acids relative", "to control"], xs: [479, 505], cy: 208 },
    ann: [{ s: 1, c: 0, v: 2.82, t: "#" }, { s: 1, c: 7, v: 3.0, t: "#" }, { s: 1, c: 9, v: 2.45, t: "#" }, { s: 1, c: 4, v: 0.82, t: "*" }, { s: 0, c: 9, v: 1.3, t: "*" }],
  },
  {
    letter: "c", lxy: [893, 17], axisX: 992, axisEnd: 1327, y0: 376, yTop: 42, yMax: 80, ticks: [0, 20, 40, 60, 80],
    cats: cCats, barW: 10, barStep: 10, r: 2.5,
    series: [ctrlS(cCtrl, cCtrlErr, cCtrlDots), sgS(cSG, cSGErr, cSGDots)],
    lab: { rot: true, size: 17.5, dx: 6, dy: 18 }, legend: { x: 1009, ys: [58, 88], tx: 1045 },
    title: { lines: ["HCT116 tumor DoxDHCer relative", "abundance /mg tissue"], xs: [917, 943], cy: 198 },
    ann: [{ s: 1, c: 1, v: 34.4, t: "#" }, { s: 1, c: 2, v: 34.4, t: "#" }, { s: 1, c: 3, v: 44.7, t: "#" }, { s: 1, c: 4, v: 47.7, t: "#" }, { s: 1, c: 6, v: 74.4, t: "#" }, { s: 1, c: 7, v: 74.4, t: "#" }],
  },
  {
    letter: "d", lxy: [1345, 17], axisX: 1453, axisEnd: 1790, lineEnd: 1785, y0: 373, yTop: 38, yMax: 300, ticks: [0, 100, 200, 300],
    cats: dCats, barW: 10, barStep: 10, r: 2.5,
    series: [ctrlS(dCtrl, dCtrlErr, dCtrlDots), sgS(dSG, dSGErr, dSGDots)],
    lab: { rot: true, size: 17.5, dx: 6, dy: 18 }, legend: { x: 1465, ys: [55, 85], tx: 1502 },
    title: { lines: ["HCT116 tumor DoxCer relative", "abundance /mg of tissue"], xs: [1368, 1394], cy: 200 },
    ann: [{ s: 1, c: 3, v: 150, t: "#" }, { s: 1, c: 4, v: 174, t: "#" }, { s: 1, c: 6, v: 211, t: "#" }, { s: 1, c: 7, v: 164, t: "#" }, { s: 1, c: 9, v: 67, t: "**" }],
  },
  {
    letter: "e", lxy: [38, 472], axisX: 115, axisEnd: 284, y0: 851, yTop: 517, yMax: 8, ticks: [0, 2, 4, 6, 8],
    cats: eCats, barW: 10, barStep: 10, r: 2.5,
    series: [ctrlS(eCtrl, eCtrlErr, eCtrlDots), sgS(eSG, eSGErr, eSGDots)],
    lab: { rot: true, size: 18.5, dx: 7, dy: 20 }, legend: { x: 131, ys: [523, 553], tx: 168 },
    title: { lines: ["Liver sphingolipids (totals) relative", "to control"], xs: [55, 77], cy: 677 },
    ann: [{ s: 1, c: 0, v: 4.13, t: "#" }, { s: 1, c: 3, v: 5.2, t: "#" }, { s: 1, c: 4, v: 3.7, t: "#" }],
  },
  {
    letter: "f", lxy: [342, 472], axisX: 417, axisEnd: 753, y0: 855, yTop: 520, yMax: 40, ticks: [0, 10, 20, 30, 40],
    cats: fCats, barW: 10, barStep: 10, r: 2.5,
    series: [ctrlS(fCtrl, fCtrlErr, fCtrlDots), sgS(fSG, fSGErr, fSGDots)],
    lab: { rot: true, size: 17.5, dx: 6, dy: 18 }, legend: { x: 637, ys: [529, 559], tx: 673 },
    title: { lines: ["HCT116 tumor DHCers (pmol/mg tissue)"], xs: [370], cy: 682 },
  },
  {
    letter: "g", lxy: [821, 472], axisX: 923, axisEnd: 1259, y0: 849, yTop: 514, yMax: 300, ticks: [0, 100, 200, 300],
    cats: gCats, barW: 10, barStep: 10, r: 2.5,
    series: [ctrlS(gCtrl, gCtrlErr, gCtrlDots), sgS(gSG, gSGErr, gSGDots)],
    lab: { rot: true, size: 17.5, dx: 6, dy: 18 }, legend: { x: 1155, ys: [520, 550], tx: 1192 },
    title: { lines: ["HCT116 tumor ceramides", "(pmol/mg tissue)"], xs: [839, 861], cy: 678 },
  },
  {
    letter: "h", lxy: [1322, 472], axisX: 1440, axisEnd: 1783, lineEnd: 1785, y0: 848, yTop: 513, yMax: 10000, ticks: [0, 2000, 4000, 6000, 8000, 10000], fmt: fc,
    cats: hCats, barW: 8.6, barStep: 8.6, r: 2.4, padOuter: 0.1,
    series: [ctrlS(hCtrl, hCtrlErr, hCtrlDots), sgS(hSG, hSGErr, hSGDots)],
    lab: { rot: true, size: 17, dx: 6, dy: 18 }, legend: { x: 1676, ys: [525, 556], tx: 1712 },
    title: { lines: ["HCT116 tumor sphingomyelin relative", "abundance /mg of tissue"], xs: [1348, 1373], cy: 674 },
  },
  {
    letter: "i", lxy: [27, 973], axisX: 107, axisEnd: 219, y0: 1348, yTop: 1013, yMax: 8, ticks: [0, 2, 4, 6, 8],
    cats: iCats, barW: 36, barStep: 0, r: 2.8, padInner: 0.1, padOuter: 0.45,
    series: [ctrlS(iCtrl, iCtrlErr, iCtrlDots), sgS(iSG, iSGErr, iSGDots)],
    lab: { rot: true, size: 18.5, dx: 9, dy: 16 },
    title: { lines: ["HCT116 tumor S1P (18:1) relative", "to control"], xs: [43, 69], cy: 1167 },
  },
  {
    letter: "k", lxy: [672, 975], axisX: 758, axisEnd: 1094, lineEnd: 1092, y0: 1357, yTop: 1023, yMax: 600, ticks: [0, 200, 400, 600],
    cats: kCats, barW: 6.4, barStep: 6.4, r: 2.4,
    series: [ctrlS(kCtrl, kCtrlErr, kCtrlDots), sgS(kSG, kSGErr, kSGDots), sgaS(kSGA, kSGAErr, kSGADots)],
    lab: { rot: true, size: 17.5, dx: 7, dy: 21 }, legend: { x: 991, ys: [1041, 1071, 1101], tx: 1028 },
    title: { lines: ["Plasma amino acids [\u03bcM]"], xs: [697], cy: 1184 },
    ann: [{ s: 2, c: 0, v: 336, t: "*" }, { s: 1, c: 2, v: 397, t: "#" }, { s: 2, c: 2, v: 331, t: "#" }, { s: 1, c: 9, v: 178, t: "**", vert: true }],
  },
  {
    letter: "l", lxy: [1093, 975], axisX: 1192, axisEnd: 1360, lineEnd: 1359, y0: 1356, yTop: 1021, yMax: 1.5, ticks: [0, 0.5, 1, 1.5], fmt: f1,
    cats: lCats, barW: 13, barStep: 14, r: 2.7,
    series: [ctrlS(lCtrl, lCtrlErr, lCtrlDots), sgS(lSG, lSGErr, lSGDots), sgaS(lSGA, lSGAErr, lSGADots)],
    lab: { rot: false, size: 21, dy: 22 }, legend: { x: 1205, ys: [1010, 1033, 1056], tx: 1242 },
    title: { lines: ["HT29 tumor amino acids relative", "to control"], xs: [1115, 1140], cy: 1182 },
    ann: [{ s: 1, c: 0, v: 0.91, t: "**" }, { s: 2, c: 0, v: 0.8, t: "**" }, { s: 1, c: 1, v: 0.77, t: "#" }, { s: 2, c: 1, v: 0.77, t: "#" }],
  },
  {
    letter: "m", lxy: [1361, 975], axisX: 1455, axisEnd: 1793, lineEnd: 1786, y0: 1354, yTop: 1019, yMax: 8, ticks: [0, 2, 4, 6, 8],
    cats: mCats, barW: 14, barStep: 17.5, r: 2.8, annSize: 18,
    series: [ctrlS(mCtrl, mCtrlErr, mCtrlDots), sgS(mSG, mSGErr, mSGDots), sgaS(mSGA, mSGAErr, mSGADots)],
    lab: { rot: true, size: 18.5, dx: 7, dy: 21 }, legend: { x: 1538, ys: [1023, 1053, 1084], tx: 1576 },
    title: { lines: ["HT29 tumor sphingolipids (totals)", "relative to control"], xs: [1390, 1415], cy: 1183 },
    ann: [{ s: 1, c: 0, v: 7.04, t: "#" }, { s: 2, c: 0, v: 8.1, t: "#" }, { s: 1, c: 3, v: 8.2, t: "#" }, { s: 2, c: 3, v: 7.68, t: "#" }, { s: 1, c: 4, v: 8.14, t: "#" }, { s: 2, c: 4, v: 7.88, t: "#" }],
  },
  {
    letter: "n", lxy: [16, 1460], axisX: 118, axisEnd: 288, lineEnd: 285, y0: 1838, yTop: 1503, yMax: 2.5, ticks: [0, 0.5, 1, 1.5, 2, 2.5], fmt: f1,
    cats: nCats, barW: 12, barStep: 14.5, r: 2.7,
    series: [ctrlS(nCtrl, nCtrlErr, nCtrlDots), sgS(nSG, nSGErr, nSGDots), sgaS(nSGA, nSGAErr, nSGADots)],
    lab: { rot: true, size: 18.5, dx: 8, dy: 17 }, legend: { x: 161, ys: [1505, 1535, 1566], tx: 198 },
    title: { lines: ["HT29 tumor lactosylceramides", "(pmol/mg tissue)"], xs: [38, 63], cy: 1668 },
    ann: [{ s: 1, c: 0, v: 1.58, t: "#" }, { s: 2, c: 0, v: 1.68, t: "#" }],
  },
  {
    letter: "o", lxy: [320, 1460], axisX: 390, axisEnd: 560, lineEnd: 558, y0: 1836, yTop: 1502, yMax: 12, ticks: [0, 4, 8, 12],
    cats: oCats, barW: 19.5, barStep: 21.5, r: 2.8,
    series: [ctrlS(oCtrl, oCtrlErr, oCtrlDots), sgS(oSG, oSGErr, oSGDots), sgaS(oSGA, oSGAErr, oSGADots)],
    lab: { rot: false, size: 19, dy: 21, italic: true }, legend: { x: 463, ys: [1513, 1542, 1570], tx: 499 },
    title: { lines: ["Expression relative to control"], xs: [340], cy: 1665 },
    brackets: [
      { c: 0, s1: 0, s2: 1, v: 7.63, tv: 8.1, t: "**" },
      { c: 0, s1: 0, s2: 2, v: 9.4, tv: 9.87, t: "**" },
      { c: 1, s1: 0, s2: 1, v: 6.58, tv: 7.02, t: "**" },
      { c: 1, s1: 0, s2: 2, v: 7.33, tv: 7.8, t: "*" },
    ],
  },
  {
    letter: "p", lxy: [622, 1460], axisX: 713, axisEnd: 1049, lineEnd: 1047, y0: 1835, yTop: 1501, yMax: 5, ticks: [0, 1, 2, 3, 4, 5],
    cats: pCats, barW: 17, barStep: 19, r: 2.7,
    series: [ctrlS(pCtrl, pCtrlErr, pCtrlDots), sgS(pSG, pSGErr, pSGDots)],
    lab: { rot: false, size: 18, dy: 22 }, legend: { x: 728, ys: [1506, 1535], tx: 765 },
    title: { lines: ["Nucleobases relative to control", "/mg tissue"], xs: [647, 672], cy: 1667 },
    ann: [{ s: 1, c: 0, v: 0.92, t: "#" }],
  },
  {
    letter: "q", lxy: [1101, 1460], axisX: 1165, axisEnd: 1335, lineEnd: 1332, y0: 1836, yTop: 1501, yMax: 2, ticks: [0, 0.5, 1, 1.5, 2], fmt: f1,
    cats: qCats, barW: 16, barStep: 20.5, r: 2.7,
    series: [ctrlS(qCtrl, qCtrlErr, qCtrlDots), sgS(qSG, qSGErr, qSGDots)],
    lab: { rot: true, size: 18.5, dx: 9, dy: 18 }, legend: { x: 1181, ys: [1507, 1537], tx: 1217 },
    title: { lines: ["Abundances relative to control", "/mg tissue"], xs: [1088, 1113], cy: 1663 },
  },
];

export default function App() {
  return (
    <svg width={1801} height={1950} viewBox="0 0 1801 1950" style={{ position: "absolute", left: 0, top: 0, background: "#fff" }} fontFamily={FONT} fill="#111">
      <rect x={0} y={0} width={1801} height={1950} fill="#fff" />
      <LinePanel cfg={panelA} />
      <LinePanel cfg={panelJ} />
      {barPanels.map((p) => <BarPanel key={p.letter} cfg={p} />)}
    </svg>
  );
}
